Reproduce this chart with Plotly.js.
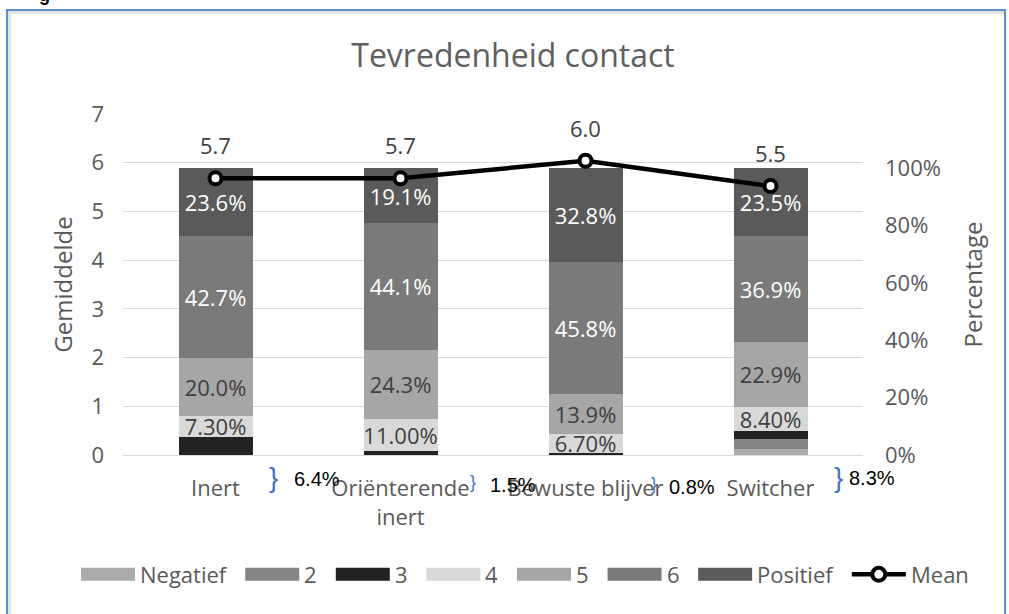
<!DOCTYPE html>
<html><head><meta charset="utf-8">
<script src="https://cdn.plot.ly/plotly-3.0.1.min.js"></script>
<style>
html,body{margin:0;padding:0;background:#fff;overflow:hidden;}
#chart{width:1009px;height:614px;position:absolute;left:0;top:0;}
#frame{position:absolute;left:6px;top:9px;width:996px;height:620px;border:2px solid #5b8fd0;box-shadow: inset 3px 3px 0 #e3e3e3;pointer-events:none;}
</style>
</head><body><div id="chart"></div><div id="frame"></div>
<script>
// ---- data ----
const categories = ['Inert', 'Oriënterende<br>inert', 'Bewuste blijver', 'Switcher'];
const negatief = [0, 0, 0, 2.1];
const s2 = [0, 0, 0, 3.4];
const s3 = [6.4, 1.5, 0.8, 2.8];
const s4 = [7.3, 11.0, 6.7, 8.4];
const s5 = [20.0, 24.3, 13.9, 22.9];
const s6 = [42.7, 44.1, 45.8, 36.9];
const positief = [23.6, 19.1, 32.8, 23.5];
const mean = [5.68, 5.68, 6.04, 5.52];
const seriesNames = ['Negatief', '2', '3', '4', '5', '6', 'Positief'];
const meanName = 'Mean';
const pctTicks = [0, 20, 40, 60, 80, 100];
const pctTickLabels = ['0%', '20%', '40%', '60%', '80%', '100%'];

// ---- style ----
const FONT = 'Open Sans, Arial, sans-serif';
const GREY = '#595959';
const colors = ['#ababab', '#858585', '#222222', '#d9d9d9', '#a6a6a6', '#7a7a7a', '#5a5a5a'];
const labelColors = [null, null, null, '#404040', '#404040', '#ffffff', '#ffffff'];
const labelFormats = [null, null, null, '%{y:.2f}%', '%{y:.1f}%', '%{y:.1f}%', '%{y:.1f}%'];
const seriesValues = [negatief, s2, s3, s4, s5, s6, positief];

const L = 123, R = 863, T = 114, B = 455.5;
const px2x = p => (p - L) / (R - L);
const py2y = p => (B - p) / (B - T);

const traces = seriesValues.map((vals, k) => {
  const t = {
    type: 'bar', name: seriesNames[k], x: [0,1,2,3], y: vals, yaxis: 'y',
    width: 0.4, marker: {color: colors[k], line: {width: 0}},
    hoverinfo: 'skip', showlegend: false
  };
  if (labelFormats[k]) {
    t.texttemplate = labelFormats[k];
    t.textposition = 'inside';
    t.insidetextanchor = 'middle';
    t.textangle = 0;
    t.constraintext = 'none';
    t.textfont = {family: FONT, size: 22, color: labelColors[k]};
  } else {
    t.textposition = 'none';
  }
  return t;
});
traces.push({
  type: 'scatter', mode: 'lines+markers', name: meanName, x: [0,1,2,3], y: mean, yaxis: 'y2',
  line: {color: '#000', width: 4.5},
  marker: {size: 12, color: '#fff', line: {color: '#000', width: 4}},
  cliponaxis: false, hoverinfo: 'skip', showlegend: false
});

const annotations = [];
// mean labels
mean.forEach((m, i) => annotations.push({
  x: i, y: m, xref: 'x', yref: 'y2', text: m.toFixed(1), showarrow: false,
  yanchor: 'middle', yshift: 33, font: {family: FONT, size: 22, color: '#404040'}
}));
// remaining (negatief+2+3) text boxes with braces
const rest = negatief.map((v, i) => v + s2[i] + s3[i]);
const braceX = [0.311, 1.392, 2.370, 3.365];
const braceY = [478, 483, 485, 478.5];
const braceSize = [28, 18, 18, 28];
const restX = [0.414, 1.473, 2.441, 3.414];
const restY = [479.5, 485.5, 488, 478.5];
rest.forEach((v, i) => {
  annotations.push({x: braceX[i], y: py2y(braceY[i]), xref: 'x', yref: 'paper', yanchor: 'middle', text: '}', showarrow: false,
    font: {family: 'Liberation Sans, Arial', size: braceSize[i], color: '#4472c4'}});
  annotations.push({x: restX[i], y: py2y(restY[i]), xref: 'x', yref: 'paper', xanchor: 'left', yanchor: 'middle',
    text: v.toFixed(1) + '%', showarrow: false,
    font: {family: 'Liberation Sans, Arial', size: 20, color: '#000'}});
});
// cropped header letter at top-left
annotations.push({x: px2x(37), y: py2y(-5.4), xref: 'paper', yref: 'paper', yanchor: 'middle', text: '<b>g</b>', showarrow: false,
  font: {family: 'Liberation Sans, Arial', size: 18, color: '#000'}});

// ---- custom legend ----
const shapes = [];
const ctx = document.createElement('canvas').getContext('2d');
ctx.font = '22px "Open Sans"';
const LY = 575, SW = 54, SH = 13;
let cx = 81;
seriesNames.forEach((n, k) => {
  shapes.push({type: 'rect', xref: 'paper', yref: 'paper', x0: px2x(cx), x1: px2x(cx + SW),
    y0: py2y(LY + SH/2), y1: py2y(LY - SH/2), fillcolor: colors[k], line: {width: 0}});
  annotations.push({x: px2x(cx + SW + 3), y: py2y(LY), xref: 'paper', yref: 'paper', xanchor: 'left', yanchor: 'middle', text: n,
    showarrow: false, font: {family: FONT, size: 22, color: GREY}});
  cx += SW + 5 + ctx.measureText(n).width + 19;
});
shapes.push({type: 'line', xref: 'paper', yref: 'paper', x0: px2x(cx), x1: px2x(cx + SW), y0: py2y(LY), y1: py2y(LY),
  line: {color: '#000', width: 4.5}});
shapes.push({type: 'circle', xref: 'paper', yref: 'paper', xsizemode: 'pixel', ysizemode: 'pixel',
  xanchor: px2x(cx + SW/2), yanchor: py2y(LY), x0: -6.5, x1: 6.5, y0: -6.5, y1: 6.5,
  fillcolor: '#fff', line: {color: '#000', width: 4}});
annotations.push({x: px2x(cx + SW + 3), y: py2y(LY), xref: 'paper', yref: 'paper', xanchor: 'left', yanchor: 'middle', text: meanName,
  showarrow: false, font: {family: FONT, size: 22, color: GREY}});

const layout = {
  width: 1009, height: 614,
  margin: {l: L, r: 1009 - R, t: T, b: 614 - B, pad: 0},
  paper_bgcolor: '#fff', plot_bgcolor: '#fff',
  barmode: 'stack', showlegend: false,
  title: {text: 'Tevredenheid contact', x: 513/1009, xref: 'container', xanchor: 'center',
    y: 1 - 56/614, yref: 'container', yanchor: 'middle', font: {family: FONT, size: 32, color: '#606060'}},
  xaxis: {type: 'linear', range: [-0.5, 3.5], tickvals: [0,1,2,3], ticktext: categories,
    showgrid: false, zeroline: false, showline: false, ticks: '', ticklabelstandoff: 18,
    tickfont: {family: FONT, size: 22, color: GREY}},
  yaxis: {side: 'right', range: [0, 119], tickmode: 'array', tickvals: pctTicks, ticktext: pctTickLabels, showgrid: false,
    zeroline: false, showline: false, ticks: '', ticklabelstandoff: 21,
    tickfont: {family: FONT, size: 22, color: GREY},
    title: {text: 'Percentage', font: {family: FONT, size: 24, color: GREY}, standoff: 25}},
  yaxis2: {overlaying: 'y', side: 'left', range: [0, 7], dtick: 1, tick0: 0, showgrid: true,
    gridcolor: '#d9d9d9', gridwidth: 1, zeroline: true, zerolinecolor: '#d9d9d9', zerolinewidth: 1,
    showline: false, ticks: '', ticklabelstandoff: 18,
    tickfont: {family: FONT, size: 22, color: GREY},
    title: {text: 'Gemiddelde', font: {family: FONT, size: 24, color: GREY}, standoff: 12}},
  annotations: annotations, shapes: shapes
};

Plotly.newPlot('chart', traces, layout, {staticPlot: true, displayModeBar: false});
</script></body></html>
